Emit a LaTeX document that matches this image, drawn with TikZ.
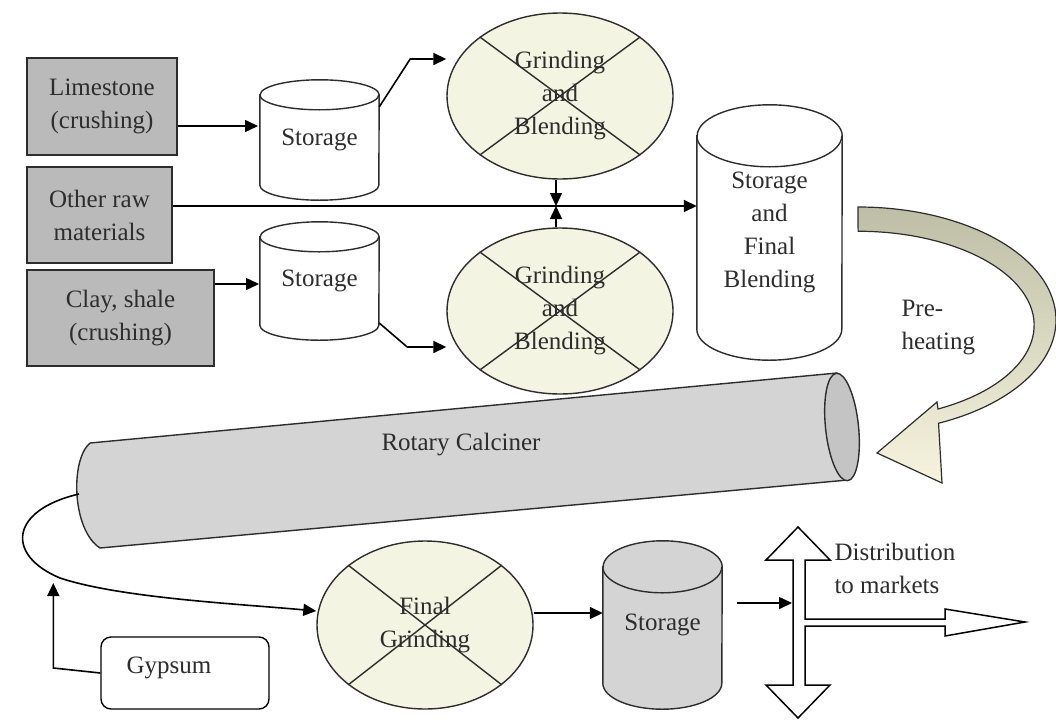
\documentclass[tikz,border=0pt]{standalone}
\usepackage{fontspec}
\setmainfont{Liberation Serif}
\usetikzlibrary{arrows.meta,backgrounds,shapes.geometric}

\definecolor{rawgray}{RGB}{186,186,186}
\definecolor{kilngray}{RGB}{212,212,212}
\definecolor{kilnend}{RGB}{196,196,196}
\definecolor{millfill}{RGB}{244,244,226}
\definecolor{inkgray}{RGB}{45,45,45}
\definecolor{heattop}{RGB}{190,190,166}
\definecolor{heatbot}{RGB}{246,244,222}

\tikzset{
  every node/.style={font=\fontsize{25}{33}\selectfont, text=inkgray},
  raw/.style={draw=inkgray, line width=2pt, fill=rawgray, align=center, inner sep=0pt},
  mill/.style={ellipse, draw=inkgray, line width=1.4pt, fill=millfill, align=center, inner sep=0pt},
  tank/.style={align=center, inner sep=0pt},
  tankline/.style={draw=inkgray, line width=1.4pt},
  flow/.style={line width=1.6pt, -{Triangle[length=13pt,width=12pt]}}
}

% cylinder behind a node: node, half width, cap height, fill
\newcommand{\drawtank}[4]{%
  \filldraw[tankline, fill=#4] ([yshift=-#3pt]#1.north west) -- ([yshift=#3pt]#1.south west)
    arc[start angle=180, end angle=360, x radius=#2pt, y radius=#3pt]
    -- ([yshift=-#3pt]#1.north east)
    arc[start angle=0, end angle=180, x radius=#2pt, y radius=#3pt] -- cycle;
  \draw[tankline] ([yshift=-#3pt]#1.north west)
    arc[start angle=180, end angle=360, x radius=#2pt, y radius=#3pt];
}

\begin{document}
\begin{tikzpicture}[x=1pt, y=-1pt]
	\useasboundingbox (0,0) rectangle (1056,720);

	% rotary calciner
	\filldraw[tankline, fill=kilngray] (90,443) -- (837,373) -- (848,480) -- (100,548)
		.. controls (72,530) and (70,460) .. (90,443);
	\coordinate (kend) at (842,427);
	\filldraw[tankline, fill=kilnend, rotate around={6:(kend)}] (kend) ellipse [x radius=16.5, y radius=54];
	\node (kiln) at (461,445) {Rotary Calciner};
	\coordinate (kout) at (79,494);

	% pre-heating arrow
	\shade[top color=heattop, bottom color=heatbot, draw=inkgray, line width=1.2pt]
		(858,207) arc[start angle=-90, end angle=66, x radius=198, y radius=113]
		-- (942,483) -- (877,453) -- (937,402) -- (938,409)
		arc[start angle=63, end angle=-90, x radius=176, y radius=94] -- cycle;
	\node[anchor=west, align=left] (heat) at (898,328) {Pre-\\heating};

	\node[raw, minimum width=150pt, minimum height=97pt] (lime) at (102,106.5) {Limestone\\(crushing)};
	\node[raw, minimum width=145pt, minimum height=96pt] (other) at (99.5,215) {Other raw\\materials};
	\node[raw, minimum width=187pt, minimum height=96pt] (clay) at (120.5,318) {Clay, shale\\(crushing)};

	\node[tank, minimum width=119pt, minimum height=120pt] (store1) at (319.5,140) {Storage};
	\node[tank, minimum width=119pt, minimum height=118pt] (store2) at (319.5,281) {Storage};
	\node[tank, minimum width=145pt, minimum height=255pt] (blend) at (769.5,232.5) {Storage\\and\\Final\\Blending};
	\node[tank, minimum width=119pt, minimum height=168pt] (store3) at (662.5,625) {Storage};

	\node[mill, minimum width=226pt, minimum height=166pt] (mill1) at (560,96) {Grinding\\and\\Blending};
	\node[mill, minimum width=226pt, minimum height=166pt] (mill2) at (560,311) {Grinding\\and\\Blending};
	\node[mill, minimum width=216pt, minimum height=168pt] (fgrind) at (425,625) {Final\\Grinding};
	\foreach \m in {mill1,mill2,fgrind}
		\draw[inkgray, line width=1.4pt] (\m.north west) -- (\m.south east)
			(\m.north east) -- (\m.south west);

	\node[draw=black, line width=1.4pt, rounded corners=10pt, fill=white,
		minimum width=168pt, minimum height=72pt] (gyp) at (185,673)
		{Gypsum\hspace*{32pt}\rule[-16pt]{0pt}{16pt}};

	\begin{scope}[on background layer]
		\drawtank{store1}{59.5}{15}{white}
		\drawtank{store2}{59.5}{15}{white}
		\drawtank{blend}{72.5}{31}{white}
		\drawtank{store3}{59.5}{26}{kilngray}
	\end{scope}

	% distribution
	\filldraw[fill=white, draw=black, line width=1.5pt] (798,527) -- (830,560) -- (805,560)
		-- (805,619) -- (945,619) -- (945,609) -- (1025,622) -- (945,636) -- (945,626)
		-- (805,626) -- (805,685) -- (830,685) -- (798,718) -- (766,685) -- (793,685)
		-- (793,560) -- (766,560) -- cycle;
	\node[anchor=west, align=left] (market) at (831,568) {Distribution\\to markets};
	\coordinate (dst) at (792,603);
	\coordinate (jn) at (556,206);

	\draw[flow] ([yshift=-19.5pt]lime.east) -- ++(80,0);
	\draw[flow] ([yshift=34pt]clay.east) -- ++(44,0);
	\draw[flow] ([yshift=9pt]other.east) -- (jn -| blend.west);
	\draw[flow] ([yshift=33pt]store1.east) -- +(31,-48) -- ([yshift=37pt]mill1.west);
	\draw[flow] ([yshift=-42pt]store2.east) -- +(28,24) -- ([yshift=-36pt]mill2.west);
	\draw[flow] (jn |- mill1.south) -- (jn);
	\draw[flow] (jn |- mill2.north) -- (jn);
	\draw[flow] (kout) .. controls (10,510) and (5,555) .. (60,578)
		.. controls (120,598) and (240,604) .. ([yshift=14pt]fgrind.west);
	\draw[flow] (gyp.west) -- +(-47,-5) -- +(-47,-90);
	\draw[flow] ([yshift=12pt]fgrind.east) -- ([yshift=12pt]store3.west);
	\draw[flow] ([xshift=15pt,yshift=22pt]store3.east) -- (dst);
\end{tikzpicture}
\end{document}
